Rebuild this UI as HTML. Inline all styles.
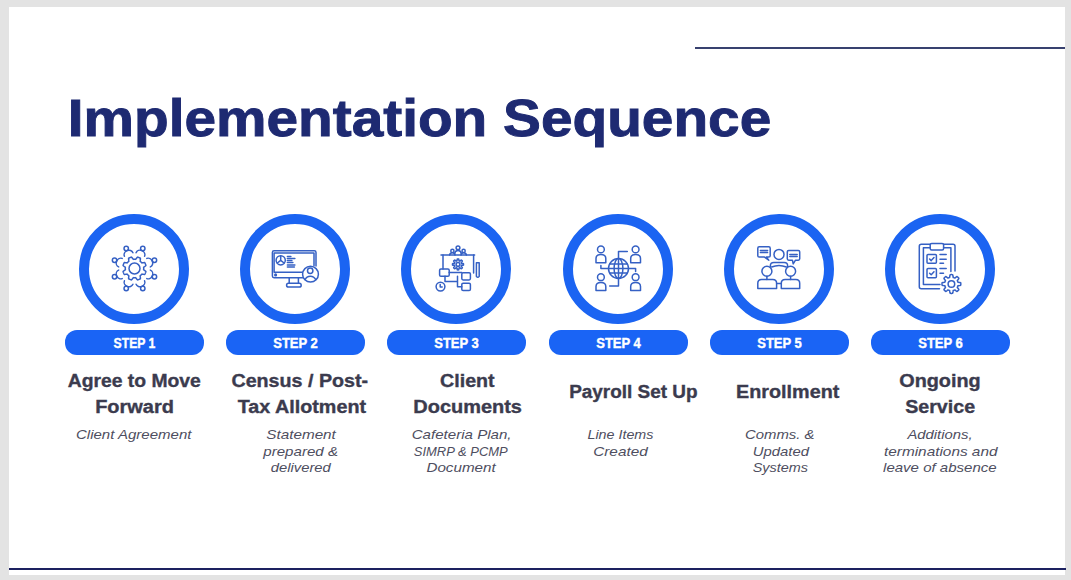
<!DOCTYPE html>
<html><head><meta charset="utf-8">
<style>
html,body{margin:0;padding:0;}
body{width:1071px;height:580px;background:#e3e3e3;position:relative;overflow:hidden;font-family:"Liberation Sans",sans-serif;}
.slide{position:absolute;left:9px;top:7px;width:1056px;height:568px;background:#fff;}
.tline{position:absolute;left:695px;top:46.6px;width:370px;height:2.5px;background:#38416f;}
.bline{position:absolute;left:9px;top:567.8px;width:1057px;height:2.6px;background:#1d2160;}
.title{position:absolute;left:0;top:0;font-size:52px;font-weight:bold;color:#1e2a72;white-space:nowrap;line-height:1;transform-origin:0 0;-webkit-text-stroke:0.9px #1e2a72;}
.ring{position:absolute;width:90px;height:90px;border:10px solid #1b64f2;border-radius:50%;top:213.5px;}
.pill{position:absolute;width:139px;height:24.5px;top:330px;background:#1a64f5;border-radius:12px;}
.pt{position:absolute;width:300px;text-align:center;color:#fff;-webkit-text-stroke:0.4px #fff;font-weight:bold;font-size:14.3px;line-height:1;white-space:nowrap;}
.pt span,.h span,.s span{display:inline-block;transform-origin:50% 50%;}
svg.ic{position:absolute;top:238px;width:60px;height:60px;overflow:visible;}
svg.ic *{fill:none;stroke:#3560c4;stroke-width:1.5;stroke-linecap:round;stroke-linejoin:round;}
.h{position:absolute;width:300px;text-align:center;color:#3b3b4e;-webkit-text-stroke:0.35px #3b3b4e;font-weight:bold;font-size:17.5px;line-height:1;white-space:nowrap;}
.s{position:absolute;width:300px;text-align:center;color:#4e4e60;font-style:italic;font-size:13.2px;line-height:1;white-space:nowrap;}
</style></head><body>
<div class="slide"></div>
<div class="tline"></div>
<div class="bline"></div>
<div class="title" style="transform:translate(67.8px,91.7px) scaleX(1.0917)">Implementation Sequence</div>
<div class="ring" style="left:79.0px"></div>
<div class="pill" style="left:65.0px"></div>
<div class="pt" style="left:-15.5px;top:336.3px"><span style="transform:scaleX(0.8527)">STEP 1</span></div>
<svg class="ic" style="left:104px" viewBox="0 0 60 60"><path d="M39.70,30.50 L39.70,30.74 L39.69,30.98 L39.67,31.22 L39.65,31.46 L39.62,31.70 L40.08,32.02 L40.56,32.36 L41.04,32.74 L41.49,33.14 L41.90,33.55 L41.81,33.85 L41.72,34.15 L41.62,34.44 L41.52,34.73 L41.40,35.02 L41.28,35.30 L41.15,35.58 L41.01,35.86 L40.87,36.13 L40.72,36.40 L40.14,36.41 L39.53,36.37 L38.93,36.29 L38.34,36.20 L37.80,36.10 L37.65,36.29 L37.50,36.47 L37.34,36.66 L37.17,36.83 L37.01,37.01 L36.83,37.17 L36.66,37.34 L36.47,37.50 L36.29,37.65 L36.10,37.80 L36.20,38.34 L36.29,38.93 L36.37,39.53 L36.41,40.14 L36.40,40.72 L36.13,40.87 L35.86,41.01 L35.58,41.15 L35.30,41.28 L35.02,41.40 L34.73,41.52 L34.44,41.62 L34.15,41.72 L33.85,41.81 L33.55,41.90 L33.14,41.49 L32.74,41.04 L32.36,40.56 L32.02,40.08 L31.70,39.62 L31.46,39.65 L31.22,39.67 L30.98,39.69 L30.74,39.70 L30.50,39.70 L30.26,39.70 L30.02,39.69 L29.78,39.67 L29.54,39.65 L29.30,39.62 L28.98,40.08 L28.64,40.56 L28.26,41.04 L27.86,41.49 L27.45,41.90 L27.15,41.81 L26.85,41.72 L26.56,41.62 L26.27,41.52 L25.98,41.40 L25.70,41.28 L25.42,41.15 L25.14,41.01 L24.87,40.87 L24.60,40.72 L24.59,40.14 L24.63,39.53 L24.71,38.93 L24.80,38.34 L24.90,37.80 L24.71,37.65 L24.53,37.50 L24.34,37.34 L24.17,37.17 L23.99,37.01 L23.83,36.83 L23.66,36.66 L23.50,36.47 L23.35,36.29 L23.20,36.10 L22.66,36.20 L22.07,36.29 L21.47,36.37 L20.86,36.41 L20.28,36.40 L20.13,36.13 L19.99,35.86 L19.85,35.58 L19.72,35.30 L19.60,35.02 L19.48,34.73 L19.38,34.44 L19.28,34.15 L19.19,33.85 L19.10,33.55 L19.51,33.14 L19.96,32.74 L20.44,32.36 L20.92,32.02 L21.38,31.70 L21.35,31.46 L21.33,31.22 L21.31,30.98 L21.30,30.74 L21.30,30.50 L21.30,30.26 L21.31,30.02 L21.33,29.78 L21.35,29.54 L21.38,29.30 L20.92,28.98 L20.44,28.64 L19.96,28.26 L19.51,27.86 L19.10,27.45 L19.19,27.15 L19.28,26.85 L19.38,26.56 L19.48,26.27 L19.60,25.98 L19.72,25.70 L19.85,25.42 L19.99,25.14 L20.13,24.87 L20.28,24.60 L20.86,24.59 L21.47,24.63 L22.07,24.71 L22.66,24.80 L23.20,24.90 L23.35,24.71 L23.50,24.53 L23.66,24.34 L23.83,24.17 L23.99,23.99 L24.17,23.83 L24.34,23.66 L24.53,23.50 L24.71,23.35 L24.90,23.20 L24.80,22.66 L24.71,22.07 L24.63,21.47 L24.59,20.86 L24.60,20.28 L24.87,20.13 L25.14,19.99 L25.42,19.85 L25.70,19.72 L25.98,19.60 L26.27,19.48 L26.56,19.38 L26.85,19.28 L27.15,19.19 L27.45,19.10 L27.86,19.51 L28.26,19.96 L28.64,20.44 L28.98,20.92 L29.30,21.38 L29.54,21.35 L29.78,21.33 L30.02,21.31 L30.26,21.30 L30.50,21.30 L30.74,21.30 L30.98,21.31 L31.22,21.33 L31.46,21.35 L31.70,21.38 L32.02,20.92 L32.36,20.44 L32.74,19.96 L33.14,19.51 L33.55,19.10 L33.85,19.19 L34.15,19.28 L34.44,19.38 L34.73,19.48 L35.02,19.60 L35.30,19.72 L35.58,19.85 L35.86,19.99 L36.13,20.13 L36.40,20.28 L36.41,20.86 L36.37,21.47 L36.29,22.07 L36.20,22.66 L36.10,23.20 L36.29,23.35 L36.47,23.50 L36.66,23.66 L36.83,23.83 L37.01,23.99 L37.17,24.17 L37.34,24.34 L37.50,24.53 L37.65,24.71 L37.80,24.90 L38.34,24.80 L38.93,24.71 L39.53,24.63 L40.14,24.59 L40.72,24.60 L40.87,24.87 L41.01,25.14 L41.15,25.42 L41.28,25.70 L41.40,25.98 L41.52,26.27 L41.62,26.56 L41.72,26.85 L41.81,27.15 L41.90,27.45 L41.49,27.86 L41.04,28.26 L40.56,28.64 L40.08,28.98 L39.62,29.30 L39.65,29.54 L39.67,29.78 L39.69,30.02 L39.70,30.26Z"/><circle cx="30.5" cy="30.5" r="5.5"/><circle cx="50.46" cy="38.77" r="2.2"/><path d="M42.78,40.57 A4.6,4.14 112.5 0 0 46.30,32.07"/><circle cx="38.77" cy="50.46" r="2.2"/><path d="M32.07,46.30 A4.6,4.14 157.5 0 0 40.57,42.78"/><circle cx="22.23" cy="50.46" r="2.2"/><path d="M20.43,42.78 A4.6,4.14 202.5 0 0 28.93,46.30"/><circle cx="10.54" cy="38.77" r="2.2"/><path d="M14.70,32.07 A4.6,4.14 247.5 0 0 18.22,40.57"/><circle cx="10.54" cy="22.23" r="2.2"/><path d="M18.22,20.43 A4.6,4.14 292.5 0 0 14.70,28.93"/><circle cx="22.23" cy="10.54" r="2.2"/><path d="M28.93,14.70 A4.6,4.14 337.5 0 0 20.43,18.22"/><circle cx="38.77" cy="10.54" r="2.2"/><path d="M40.57,18.22 A4.6,4.14 382.5 0 0 32.07,14.70"/><circle cx="50.46" cy="22.23" r="2.2"/><path d="M46.30,28.93 A4.6,4.14 427.5 0 0 42.78,20.43"/></svg>
<div class="ring" style="left:240.2px"></div>
<div class="pill" style="left:226.2px"></div>
<div class="pt" style="left:145.7px;top:336.3px"><span style="transform:scaleX(0.9101)">STEP 2</span></div>
<svg class="ic" style="left:265px" viewBox="0 0 60 60"><path d="M37.5,39.7 H9 Q7.4,39.7 7.4,38.1 V14.4 Q7.4,12.8 9,12.8 H49.4 Q51,12.8 51,14.4 V28"/><path d="M37.5,34.2 H9.1 V15.1 H49 V27.8"/><circle cx="10.6" cy="36.9" r="0.8" style="fill:#3560c4"/><circle cx="15.7" cy="22.3" r="4.6"/><path d="M15.7,17.9 V22.3 L12.3,25 M15.7,22.3 L19.1,25" stroke-width="1.3"/><path d="M22.4,18.4 H25.9" stroke-width="1.4"/><path d="M22.4,20.4 H29.9" stroke-width="1.4"/><path d="M22.4,22.4 H26.9" stroke-width="1.4"/><path d="M22.4,24.4 H27.9" stroke-width="1.4"/><path d="M22.4,27.0 H29.9" stroke-width="1.4"/><path d="M22.4,29.0 H29.4" stroke-width="1.4"/><path d="M24.2,39.8 V45.3 M33.4,39.8 V45.3"/><rect x="21.6" y="45.3" width="14.6" height="3.8" rx="1.9"/><circle cx="45.5" cy="36.2" r="7.9" fill="#fff" style="fill:#fff"/><circle cx="45.2" cy="32.7" r="2.7"/><path d="M40,41.6 Q41.6,38.2 45.3,38.2 Q49,38.2 50.8,41.6"/></svg>
<div class="ring" style="left:401.4px"></div>
<div class="pill" style="left:387.4px"></div>
<div class="pt" style="left:306.9px;top:336.3px"><span style="transform:scaleX(0.9101)">STEP 3</span></div>
<svg class="ic" style="left:426px" viewBox="0 0 60 60"><circle cx="32" cy="9.8" r="1.9"/><path d="M28.6,15.9 Q29,12.6 32,12.6 Q35,12.6 35.4,15.9"/><circle cx="26.4" cy="12.9" r="1.6"/><circle cx="37.6" cy="12.9" r="1.6"/><path d="M23.6,17 Q24,14.8 26.4,14.8 Q28.6,14.8 29,17 M35,17 Q35.4,14.8 37.6,14.8 Q40,14.8 40.4,17"/><path d="M15,17 H48.6"/><path d="M17,17 V31 M47.6,17 V35"/><path d="M37.50,26.40 L37.50,26.54 L37.49,26.69 L37.48,26.83 L37.47,26.97 L37.45,27.12 L37.09,27.21 L36.71,27.27 L36.32,27.32 L35.93,27.34 L35.57,27.36 L35.55,27.45 L35.52,27.54 L35.49,27.64 L35.45,27.73 L35.42,27.82 L35.38,27.90 L35.34,27.99 L35.30,28.08 L35.25,28.17 L35.20,28.25 L35.45,28.51 L35.70,28.80 L35.95,29.11 L36.17,29.43 L36.36,29.75 L36.27,29.86 L36.18,29.97 L36.09,30.08 L35.99,30.19 L35.89,30.29 L35.79,30.39 L35.68,30.49 L35.57,30.58 L35.46,30.67 L35.35,30.76 L35.03,30.57 L34.71,30.35 L34.40,30.10 L34.11,29.85 L33.85,29.60 L33.77,29.65 L33.68,29.70 L33.59,29.74 L33.50,29.78 L33.42,29.82 L33.33,29.85 L33.24,29.89 L33.14,29.92 L33.05,29.95 L32.96,29.97 L32.94,30.33 L32.92,30.72 L32.87,31.11 L32.81,31.49 L32.72,31.85 L32.57,31.87 L32.43,31.88 L32.29,31.89 L32.14,31.90 L32.00,31.90 L31.86,31.90 L31.71,31.89 L31.57,31.88 L31.43,31.87 L31.28,31.85 L31.19,31.49 L31.13,31.11 L31.08,30.72 L31.06,30.33 L31.04,29.97 L30.95,29.95 L30.86,29.92 L30.76,29.89 L30.67,29.85 L30.58,29.82 L30.50,29.78 L30.41,29.74 L30.32,29.70 L30.23,29.65 L30.15,29.60 L29.89,29.85 L29.60,30.10 L29.29,30.35 L28.97,30.57 L28.65,30.76 L28.54,30.67 L28.43,30.58 L28.32,30.49 L28.21,30.39 L28.11,30.29 L28.01,30.19 L27.91,30.08 L27.82,29.97 L27.73,29.86 L27.64,29.75 L27.83,29.43 L28.05,29.11 L28.30,28.80 L28.55,28.51 L28.80,28.25 L28.75,28.17 L28.70,28.08 L28.66,27.99 L28.62,27.90 L28.58,27.82 L28.55,27.73 L28.51,27.64 L28.48,27.54 L28.45,27.45 L28.43,27.36 L28.07,27.34 L27.68,27.32 L27.29,27.27 L26.91,27.21 L26.55,27.12 L26.53,26.97 L26.52,26.83 L26.51,26.69 L26.50,26.54 L26.50,26.40 L26.50,26.26 L26.51,26.11 L26.52,25.97 L26.53,25.83 L26.55,25.68 L26.91,25.59 L27.29,25.53 L27.68,25.48 L28.07,25.46 L28.43,25.44 L28.45,25.35 L28.48,25.26 L28.51,25.16 L28.55,25.07 L28.58,24.98 L28.62,24.90 L28.66,24.81 L28.70,24.72 L28.75,24.63 L28.80,24.55 L28.55,24.29 L28.30,24.00 L28.05,23.69 L27.83,23.37 L27.64,23.05 L27.73,22.94 L27.82,22.83 L27.91,22.72 L28.01,22.61 L28.11,22.51 L28.21,22.41 L28.32,22.31 L28.43,22.22 L28.54,22.13 L28.65,22.04 L28.97,22.23 L29.29,22.45 L29.60,22.70 L29.89,22.95 L30.15,23.20 L30.23,23.15 L30.32,23.10 L30.41,23.06 L30.50,23.02 L30.58,22.98 L30.67,22.95 L30.76,22.91 L30.86,22.88 L30.95,22.85 L31.04,22.83 L31.06,22.47 L31.08,22.08 L31.13,21.69 L31.19,21.31 L31.28,20.95 L31.43,20.93 L31.57,20.92 L31.71,20.91 L31.86,20.90 L32.00,20.90 L32.14,20.90 L32.29,20.91 L32.43,20.92 L32.57,20.93 L32.72,20.95 L32.81,21.31 L32.87,21.69 L32.92,22.08 L32.94,22.47 L32.96,22.83 L33.05,22.85 L33.14,22.88 L33.24,22.91 L33.33,22.95 L33.42,22.98 L33.50,23.02 L33.59,23.06 L33.68,23.10 L33.77,23.15 L33.85,23.20 L34.11,22.95 L34.40,22.70 L34.71,22.45 L35.03,22.23 L35.35,22.04 L35.46,22.13 L35.57,22.22 L35.68,22.31 L35.79,22.41 L35.89,22.51 L35.99,22.61 L36.09,22.72 L36.18,22.83 L36.27,22.94 L36.36,23.05 L36.17,23.37 L35.95,23.69 L35.70,24.00 L35.45,24.29 L35.20,24.55 L35.25,24.63 L35.30,24.72 L35.34,24.81 L35.38,24.90 L35.42,24.98 L35.45,25.07 L35.49,25.16 L35.52,25.26 L35.55,25.35 L35.57,25.44 L35.93,25.46 L36.32,25.48 L36.71,25.53 L37.09,25.59 L37.45,25.68 L37.47,25.83 L37.48,25.97 L37.49,26.11 L37.50,26.26Z"/><circle cx="32" cy="26.4" r="1.9"/><rect x="13.6" y="31" width="9.6" height="7.3" rx="1.3"/><rect x="35.8" y="34.7" width="8.6" height="7.2" rx="1.3"/><rect x="35.8" y="45.2" width="8.6" height="7.4" rx="1.3"/><path d="M23.2,34.6 H35.8 M19,38.3 V43.5 H31.5 M31.5,38.3 V48.8 H35.8"/><circle cx="14.5" cy="48.6" r="4.4"/><path d="M14.2,46.4 V49 H16.2"/><path d="M50.4,24.8 H53.2 V38.4 Q51.8,40.2 50.4,38.4 Z"/></svg>
<div class="ring" style="left:562.6px"></div>
<div class="pill" style="left:548.6px"></div>
<div class="pt" style="left:468.1px;top:336.3px"><span style="transform:scaleX(0.9101)">STEP 4</span></div>
<svg class="ic" style="left:588px" viewBox="0 0 60 60"><circle cx="30.5" cy="30.5" r="10"/><ellipse cx="30.5" cy="30.5" rx="4.4" ry="10"/><path d="M30.5,20.5 V40.5 M20.5,30.5 H40.5 M21.7,25.9 H39.3 M21.7,35.1 H39.3"/><path d="M30.5,20.5 V13.4 H39.3 M20.5,30.5 H12.9 V27.4 M40.5,30.5 H47.6 V33.6 M30.5,40.5 V48.1 H21.7"/><circle cx="12.9" cy="11.4" r="3.4"/><path d="M8.0,24.8 V20.6 Q8.0,16.6 12.9,16.6 Q17.8,16.6 17.8,20.6 V24.8 Z"/><circle cx="47.6" cy="11.4" r="3.4"/><path d="M42.7,24.8 V20.6 Q42.7,16.6 47.6,16.6 Q52.5,16.6 52.5,20.6 V24.8 Z"/><circle cx="12.9" cy="39.2" r="3.4"/><path d="M8.0,52.60000000000001 V48.400000000000006 Q8.0,44.400000000000006 12.9,44.400000000000006 Q17.8,44.400000000000006 17.8,48.400000000000006 V52.60000000000001 Z"/><circle cx="47.6" cy="39.2" r="3.4"/><path d="M42.7,52.60000000000001 V48.400000000000006 Q42.7,44.400000000000006 47.6,44.400000000000006 Q52.5,44.400000000000006 52.5,48.400000000000006 V52.60000000000001 Z"/></svg>
<div class="ring" style="left:723.8px"></div>
<div class="pill" style="left:709.8px"></div>
<div class="pt" style="left:629.3px;top:336.3px"><span style="transform:scaleX(0.9101)">STEP 5</span></div>
<svg class="ic" style="left:749px" viewBox="0 0 60 60"><circle cx="30" cy="16.4" r="5"/><path d="M21.4,28.6 V27.5 Q21.4,24.4 24.8,24.4 H35.2 Q38.6,24.4 38.6,27.5 V28.6"/><path d="M22.6,29 Q30,25.8 37.4,29"/><circle cx="17.9" cy="33.2" r="5"/><circle cx="41.6" cy="33.2" r="5"/><path d="M17.9,38.2 V41.4 M41.6,38.2 V41.4"/><path d="M8.8,50.6 V45.2 Q8.8,41.4 12.6,41.4 H23.8 Q27.6,41.4 27.6,45.2 V50.6 Z"/><path d="M32.3,50.6 V45.2 Q32.3,41.4 36.1,41.4 H46.9 Q50.7,41.4 50.7,45.2 V50.6 Z"/><path d="M27.6,45.6 H32.3"/><path d="M10.2,8.8 H19.8 Q21.2,8.8 21.2,10.2 V17.7 Q21.2,19.1 19.8,19.1 H17.4 L19.8,22.2 L15.5,19.1 H10.2 Q8.8,19.1 8.8,17.7 V10.2 Q8.8,8.8 10.2,8.8 Z"/><path d="M11.4,12.4 H18.6 M11.4,14.5 H18.6" stroke-width="1.2"/><path d="M39.7,12.4 H49.3 Q50.7,12.4 50.7,13.8 V20.8 Q50.7,22.2 49.3,22.2 H46.5 L44.2,25.9 L43.4,22.2 H39.7 Q38.3,22.2 38.3,20.8 V13.8 Q38.3,12.4 39.7,12.4 Z"/><path d="M40.8,16.6 H48.2 M40.8,18.6 H48.2" stroke-width="1.2"/></svg>
<div class="ring" style="left:885.0px"></div>
<div class="pill" style="left:871.0px"></div>
<div class="pt" style="left:790.5px;top:336.3px"><span style="transform:scaleX(0.9101)">STEP 6</span></div>
<svg class="ic" style="left:910px" viewBox="0 0 60 60"><path d="M45,33 V8.2 Q45,6.2 43,6.2 H33.6 M20.2,6.2 H11.3 Q9.3,6.2 9.3,8.2 V48.7 Q9.3,50.7 11.3,50.7 H29.5"/><path d="M40.9,33.5 V9.8 H33.6 M20.2,9.8 H13.4 V46.5 H30"/><rect x="20.2" y="5.6" width="13.4" height="6.3" rx="1.5"/><rect x="17" y="16.5" width="9.4" height="8.8" rx="1"/><rect x="17" y="30.5" width="9.4" height="9.3" rx="1"/><path d="M19.6,21 L21.2,22.6 L24,19.6 M19.6,35.2 L21.2,36.8 L24,33.8"/><path d="M30,16.5 H36.2 M30,21.2 H36.2 M30,25.3 H33.5 M30,30.5 H36.2 M30,35.2 H33.5"/><path d="M50.80,46.00 L50.80,46.25 L50.79,46.49 L50.77,46.74 L50.75,46.98 L50.72,47.23 L50.27,47.41 L49.66,47.53 L49.03,47.62 L48.42,47.68 L47.97,47.76 L47.92,47.93 L47.87,48.10 L47.81,48.27 L47.75,48.44 L47.68,48.60 L47.61,48.77 L47.54,48.93 L47.46,49.09 L47.38,49.24 L47.29,49.40 L47.55,49.77 L47.94,50.25 L48.32,50.76 L48.67,51.28 L48.86,51.72 L48.71,51.92 L48.55,52.10 L48.39,52.29 L48.22,52.47 L48.05,52.65 L47.87,52.82 L47.69,52.99 L47.50,53.15 L47.32,53.31 L47.12,53.46 L46.68,53.27 L46.16,52.92 L45.65,52.54 L45.17,52.15 L44.80,51.89 L44.64,51.98 L44.49,52.06 L44.33,52.14 L44.17,52.21 L44.00,52.28 L43.84,52.35 L43.67,52.41 L43.50,52.47 L43.33,52.52 L43.16,52.57 L43.08,53.02 L43.02,53.63 L42.93,54.26 L42.81,54.87 L42.63,55.32 L42.38,55.35 L42.14,55.37 L41.89,55.39 L41.65,55.40 L41.40,55.40 L41.15,55.40 L40.91,55.39 L40.66,55.37 L40.42,55.35 L40.17,55.32 L39.99,54.87 L39.87,54.26 L39.78,53.63 L39.72,53.02 L39.64,52.57 L39.47,52.52 L39.30,52.47 L39.13,52.41 L38.96,52.35 L38.80,52.28 L38.63,52.21 L38.47,52.14 L38.31,52.06 L38.16,51.98 L38.00,51.89 L37.63,52.15 L37.15,52.54 L36.64,52.92 L36.12,53.27 L35.68,53.46 L35.48,53.31 L35.30,53.15 L35.11,52.99 L34.93,52.82 L34.75,52.65 L34.58,52.47 L34.41,52.29 L34.25,52.10 L34.09,51.92 L33.94,51.72 L34.13,51.28 L34.48,50.76 L34.86,50.25 L35.25,49.77 L35.51,49.40 L35.42,49.24 L35.34,49.09 L35.26,48.93 L35.19,48.77 L35.12,48.60 L35.05,48.44 L34.99,48.27 L34.93,48.10 L34.88,47.93 L34.83,47.76 L34.38,47.68 L33.77,47.62 L33.14,47.53 L32.53,47.41 L32.08,47.23 L32.05,46.98 L32.03,46.74 L32.01,46.49 L32.00,46.25 L32.00,46.00 L32.00,45.75 L32.01,45.51 L32.03,45.26 L32.05,45.02 L32.08,44.77 L32.53,44.59 L33.14,44.47 L33.77,44.38 L34.38,44.32 L34.83,44.24 L34.88,44.07 L34.93,43.90 L34.99,43.73 L35.05,43.56 L35.12,43.40 L35.19,43.23 L35.26,43.07 L35.34,42.91 L35.42,42.76 L35.51,42.60 L35.25,42.23 L34.86,41.75 L34.48,41.24 L34.13,40.72 L33.94,40.28 L34.09,40.08 L34.25,39.90 L34.41,39.71 L34.58,39.53 L34.75,39.35 L34.93,39.18 L35.11,39.01 L35.30,38.85 L35.48,38.69 L35.68,38.54 L36.12,38.73 L36.64,39.08 L37.15,39.46 L37.63,39.85 L38.00,40.11 L38.16,40.02 L38.31,39.94 L38.47,39.86 L38.63,39.79 L38.80,39.72 L38.96,39.65 L39.13,39.59 L39.30,39.53 L39.47,39.48 L39.64,39.43 L39.72,38.98 L39.78,38.37 L39.87,37.74 L39.99,37.13 L40.17,36.68 L40.42,36.65 L40.66,36.63 L40.91,36.61 L41.15,36.60 L41.40,36.60 L41.65,36.60 L41.89,36.61 L42.14,36.63 L42.38,36.65 L42.63,36.68 L42.81,37.13 L42.93,37.74 L43.02,38.37 L43.08,38.98 L43.16,39.43 L43.33,39.48 L43.50,39.53 L43.67,39.59 L43.84,39.65 L44.00,39.72 L44.17,39.79 L44.33,39.86 L44.49,39.94 L44.64,40.02 L44.80,40.11 L45.17,39.85 L45.65,39.46 L46.16,39.08 L46.68,38.73 L47.12,38.54 L47.32,38.69 L47.50,38.85 L47.69,39.01 L47.87,39.18 L48.05,39.35 L48.22,39.53 L48.39,39.71 L48.55,39.90 L48.71,40.08 L48.86,40.28 L48.67,40.72 L48.32,41.24 L47.94,41.75 L47.55,42.23 L47.29,42.60 L47.38,42.76 L47.46,42.91 L47.54,43.07 L47.61,43.23 L47.68,43.40 L47.75,43.56 L47.81,43.73 L47.87,43.90 L47.92,44.07 L47.97,44.24 L48.42,44.32 L49.03,44.38 L49.66,44.47 L50.27,44.59 L50.72,44.77 L50.75,45.02 L50.77,45.26 L50.79,45.51 L50.80,45.75Z"/><circle cx="41.4" cy="46" r="3.3"/></svg>
<div class="h" style="left:-15.6px;top:372.99px"><span style="transform:scaleX(1.1043)">Agree to Move</span></div>
<div class="h" style="left:-15.7px;top:399.29px"><span style="transform:scaleX(1.1403)">Forward</span></div>
<div class="h" style="left:150.2px;top:372.79px"><span style="transform:scaleX(1.1240)">Census / Post-</span></div>
<div class="h" style="left:151.6px;top:399.09px"><span style="transform:scaleX(1.1275)">Tax Allotment</span></div>
<div class="h" style="left:317.4px;top:372.89px"><span style="transform:scaleX(1.1202)">Client</span></div>
<div class="h" style="left:317.3px;top:399.19px"><span style="transform:scaleX(1.1399)">Documents</span></div>
<div class="h" style="left:483.8px;top:384.09px"><span style="transform:scaleX(1.0821)">Payroll Set Up</span></div>
<div class="h" style="left:637.3px;top:384.39px"><span style="transform:scaleX(1.1289)">Enrollment</span></div>
<div class="h" style="left:790.1px;top:372.89px"><span style="transform:scaleX(1.1315)">Ongoing</span></div>
<div class="h" style="left:790.3px;top:399.19px"><span style="transform:scaleX(1.1213)">Service</span></div>
<div class="s" style="left:-15.9px;top:428.43px"><span style="transform:scaleX(1.1381)">Client Agreement</span></div>
<div class="s" style="left:150.6px;top:428.43px"><span style="transform:scaleX(1.1579)">Statement</span></div>
<div class="s" style="left:150.8px;top:444.63px"><span style="transform:scaleX(1.1446)">prepared &amp;</span></div>
<div class="s" style="left:151.0px;top:460.83px"><span style="transform:scaleX(1.1204)">delivered</span></div>
<div class="s" style="left:311.4px;top:428.43px"><span style="transform:scaleX(1.1449)">Cafeteria Plan,</span></div>
<div class="s" style="left:311.1px;top:444.63px"><span style="transform:scaleX(0.9837)">SIMRP &amp; PCMP</span></div>
<div class="s" style="left:310.9px;top:460.83px"><span style="transform:scaleX(1.1527)">Document</span></div>
<div class="s" style="left:470.1px;top:428.43px"><span style="transform:scaleX(1.0833)">Line Items</span></div>
<div class="s" style="left:470.4px;top:444.63px"><span style="transform:scaleX(1.1616)">Created</span></div>
<div class="s" style="left:630.1px;top:428.43px"><span style="transform:scaleX(1.1289)">Comms. &amp;</span></div>
<div class="s" style="left:630.5px;top:444.63px"><span style="transform:scaleX(1.1269)">Updated</span></div>
<div class="s" style="left:630.7px;top:460.83px"><span style="transform:scaleX(1.0925)">Systems</span></div>
<div class="s" style="left:790.1px;top:428.43px"><span style="transform:scaleX(1.1251)">Additions,</span></div>
<div class="s" style="left:790.3px;top:444.63px"><span style="transform:scaleX(1.1636)">terminations and</span></div>
<div class="s" style="left:790.3px;top:460.83px"><span style="transform:scaleX(1.1391)">leave of absence</span></div>
</body></html>
